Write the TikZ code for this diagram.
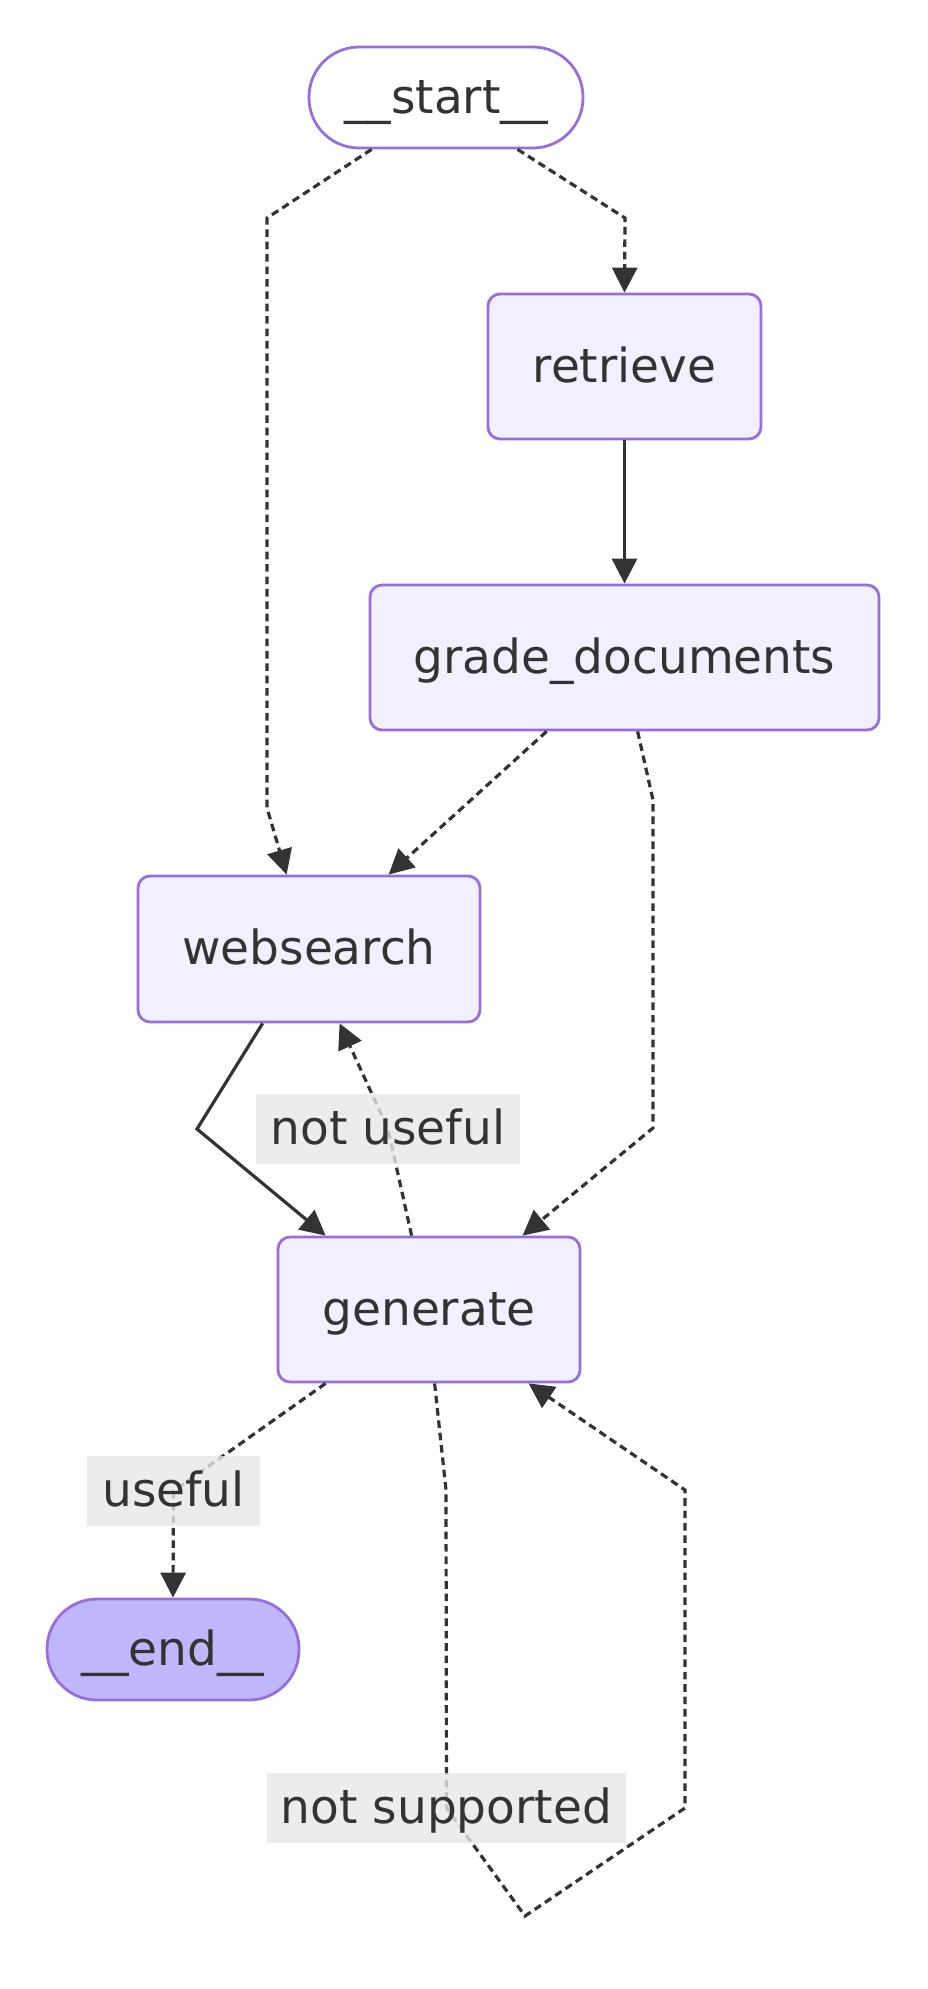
\documentclass[tikz,border=0pt]{standalone}
\usepackage{fontspec}
\setmainfont{DejaVu Sans}
\usetikzlibrary{arrows.meta}
\definecolor{nodeborder}{HTML}{9370DB}
\definecolor{nodefill}{HTML}{F2F0FF}
\definecolor{endfill}{HTML}{BFB6FC}
\definecolor{ink}{HTML}{333333}
\definecolor{lblfill}{HTML}{E8E8E8}
\begin{document}
\begin{tikzpicture}[x=0.5pt,y=-0.5pt,
  txt/.style={text=ink, font=\fontsize{23.5pt}{28pt}\selectfont, text height=21.15pt, text depth=5.64pt, inner sep=0pt},
  box/.style={txt, draw=nodeborder, fill=nodefill, line width=1.4pt, rounded corners=6pt},
  terminal/.style={txt, draw=nodeborder, line width=1.4pt, rounded corners=25pt},
  edgelbl/.style={txt, fill=lblfill, fill opacity=0.8, text opacity=1, minimum height=35pt},
  conn/.style={draw=ink, line width=1.6pt, -{Triangle[length=12.5pt,width=12.5pt]}},
  dotconn/.style={conn, dash pattern=on 3.8pt off 2.4pt}
]
\fill[white] (0,0) rectangle (927,1989);
\useasboundingbox (0,0) rectangle (927,1989);

% nodes
\node[terminal, fill=white, minimum width=137pt, minimum height=50.5pt] (start) at (446,97.5) {\_\_start\_\_};
\node[box, minimum width=136.5pt, minimum height=72.5pt] (retrieve) at (624.5,366.5) {retrieve};
\node[box, minimum width=254.5pt, minimum height=72.5pt] (grade) at (624.5,657.5) {grade\_documents};
\node[box, minimum width=171pt, minimum height=73pt] (websearch) at (309,949) {websearch};
\node[box, minimum width=151pt, minimum height=72.5pt] (generate) at (429,1309.5) {generate};
\node[terminal, fill=endfill, minimum width=126pt, minimum height=50.5pt] (end) at (173,1649.5) {\_\_end\_\_};

% waypoints
\coordinate (s1) at (267,218);
\coordinate (s2) at (267,808);
\coordinate (r1) at (625,218);
\coordinate (g1) at (653,800);
\coordinate (g2) at (653,1128);
\coordinate (w1) at (197,1129);
\coordinate (nu) at (388,1129);
\coordinate (us) at (173.5,1491);
\coordinate (n1) at (446,1490);
\coordinate (ns) at (446.5,1808);
\coordinate (n2) at (525,1916);
\coordinate (n3) at (685,1808);
\coordinate (n4) at (685,1490);

% connectors
\draw[dotconn] ([xshift=32pt]start.south west) -- (s1) -- (s2) -- ([xshift=75pt]websearch.north west);
\draw[dotconn] ([xshift=105pt]start.south west) -- (r1) -- (retrieve.north);
\draw[conn] (retrieve.south) -- (grade.north);
\draw[dotconn] ([xshift=89pt]grade.south west) -- ([xshift=126pt]websearch.north west);
\draw[dotconn] ([xshift=134.5pt]grade.south west) -- (g1) -- (g2) -- ([xshift=123pt]generate.north west);
\draw[conn] ([xshift=63pt]websearch.south west) -- (w1) -- ([xshift=24.5pt]generate.north west);
\draw[dotconn] ([xshift=67.5pt]generate.north west) -- (nu) -- ([xshift=101.5pt]websearch.south west);
\draw[dotconn] ([xshift=24.5pt]generate.south west) -- (us) -- (end.north);
\draw[dotconn] ([xshift=79pt]generate.south west) -- (n1) -- (ns) -- (n2) -- (n3) -- (n4) -- ([xshift=126pt]generate.south west);

% edge labels
\node[edgelbl, minimum width=132pt] (lblnu) at (nu) {not useful};
\node[edgelbl, minimum width=86.5pt] (lblus) at (us) {useful};
\node[edgelbl, minimum width=179.5pt] (lblns) at (ns) {not supported};
\end{tikzpicture}
\end{document}
